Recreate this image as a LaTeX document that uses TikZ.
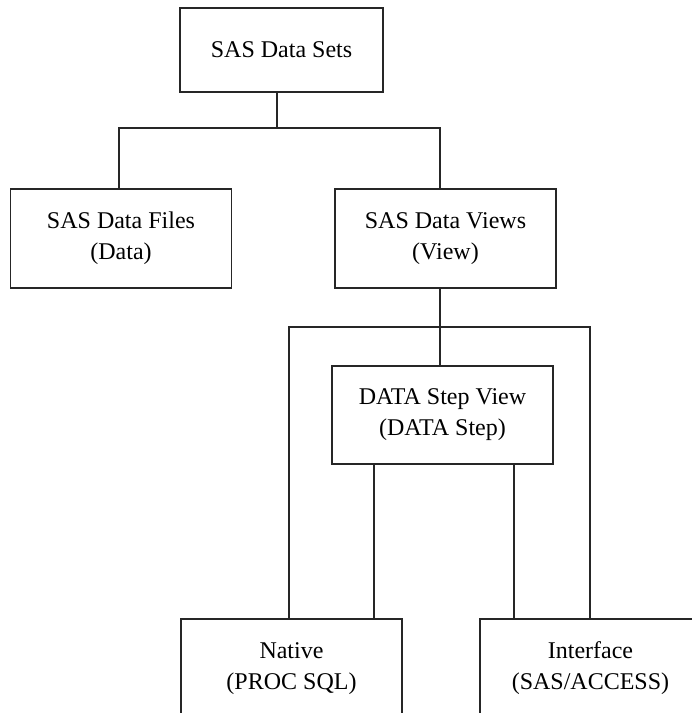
\documentclass[tikz,border=0pt]{standalone}
\usepackage{fontspec}
\setmainfont{Liberation Serif}
\usetikzlibrary{positioning,calc}

\begin{document}
\begin{tikzpicture}[x=1pt,y=-1pt,
  box/.style={draw=black!85,line width=1.1pt,inner sep=0pt,align=center,
    font=\fontsize{24}{31}\selectfont,minimum width=221pt,minimum height=99pt},
  link/.style={draw=black!85,line width=1.1pt}]
\useasboundingbox (0,0) rectangle (692,713);
\clip (0,0) rectangle (692,713);
% boxes
\node[box,minimum width=203pt,minimum height=84pt] (sets) at (281.5,50) {SAS Data Sets};
\node[box] (files) at (121,238.5) {SAS Data Files\\(Data)};
\node[box] (views) at (445.5,238.5) {SAS Data Views\\(View)};
\node[box,minimum height=98pt] (step) at (442.5,415) {DATA Step View\\(DATA Step)};
\node[box] (native) at (291.5,668.5) {Native\\(PROC SQL)};
\node[box] (iface) at (590.5,668.5) {Interface\\(SAS/ACCESS)};
% first level
\coordinate (b1) at (277,128);
\draw[link] ([xshift=-4.5pt]sets.south) -- (b1);
\draw[link] ([xshift=-2pt]files.north) |- (b1) -| ([xshift=-5.5pt]views.north);
% second level
\coordinate (b2) at (440,327);
\draw[link] ([xshift=-5.5pt]views.south) -- ([xshift=-2.5pt]step.north);
\draw[link] ([xshift=-2.5pt]native.north) |- (b2) -| ([xshift=-0.5pt]iface.north);
\draw[link] ([xshift=-68.5pt]step.south) -- ([xshift=-68.5pt]step.south |- native.north);
\draw[link] ([xshift=71.5pt]step.south) -- ([xshift=71.5pt]step.south |- iface.north);
\end{tikzpicture}
\end{document}
